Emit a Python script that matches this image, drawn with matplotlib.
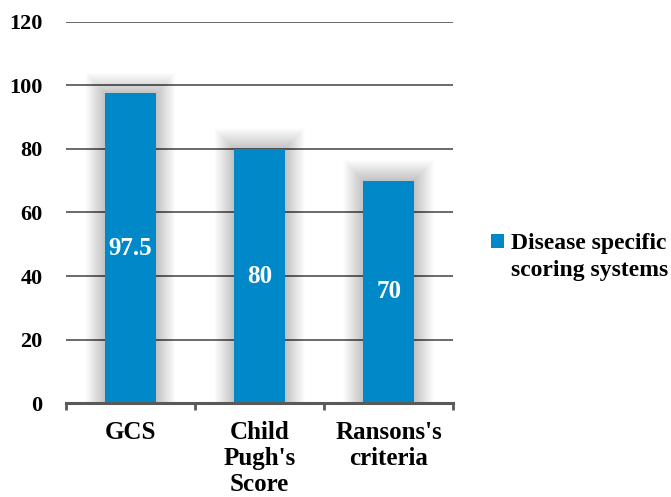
import matplotlib
matplotlib.use("Agg")
import matplotlib.pyplot as plt
from matplotlib.legend_handler import HandlerPatch
from matplotlib.patches import Rectangle
import numpy as np

categories = ["GCS", "Child\nPugh's\nScore", "Ransons's\ncriteria"]
values = [97.5, 80, 70]
value_labels = ["97.5", "80", "70"]
series_name = "Disease specific\nscoring systems"
yticks = [0, 20, 40, 60, 80, 100, 120]

plt.rcParams['font.family'] = ['Liberation Serif', 'DejaVu Serif']
plt.rcParams['font.weight'] = 'bold'

fig = plt.figure(figsize=(6.71, 4.97), dpi=100)
ax = fig.add_axes([0.0984, 0.189, 0.577, 0.767])

x = np.arange(len(categories))
bw = 0.40
color = "#0088C8"

# soft shadow
n = 30
for i in range(n):
    d = (i + 1) / n
    ax.bar(x, np.array(values) + 6.5 * d, width=bw + 0.30 * d, bottom=0,
           color="#000000", alpha=0.0075, zorder=1, linewidth=0)

bars = ax.bar(x, values, width=bw, color=color, zorder=3, label=series_name, linewidth=0)

for xi, v, lab in zip(x, values, value_labels):
    ax.text(xi, v / 2, lab, ha='center', va='center', color='white',
            fontsize=18, fontweight='bold', zorder=4)

ax.set_xlim(-0.5, len(categories) - 0.5)
ax.set_ylim(0, 120)
ax.set_yticks(yticks)
ax.set_yticklabels([str(t) for t in yticks], fontsize=16, fontweight='bold')
ax.tick_params(axis='y', length=0, pad=17)
ax.yaxis.grid(True, color='#505050', linewidth=1.2, zorder=0)
ax.set_axisbelow(True)

ax.set_xticks(x)
ax.set_xticklabels(categories, fontsize=18, fontweight='bold', linespacing=1.17, va='top')
ax.tick_params(axis='x', which='major', length=0, pad=13)
ax.set_xticks(np.arange(len(categories) + 1) - 0.5, minor=True)
ax.tick_params(axis='x', which='minor', length=5, width=2, color='#595959', direction='out')

for s in ['top', 'right', 'left']:
    ax.spines[s].set_visible(False)
ax.spines['bottom'].set_color('#595959')
ax.spines['bottom'].set_linewidth(2.2)
ax.spines['bottom'].set_zorder(5)


def top_square(legend, orig_handle, xdescent, ydescent, width, height, fontsize):
    return Rectangle((-xdescent, -ydescent + 0.65 * fontsize), width, height)


leg = fig.legend(handles=[bars.patches[0]], labels=[series_name], loc='center left',
                 bbox_to_anchor=(0.700, 0.483), frameon=False,
                 handlelength=0.55, handleheight=0.55, handletextpad=0.3,
                 prop={'weight': 'bold', 'size': 17},
                 handler_map={Rectangle: HandlerPatch(patch_func=top_square)})
for t in leg.get_texts():
    t.set_linespacing(1.38)

fig.savefig("out.png", dpi=100)
